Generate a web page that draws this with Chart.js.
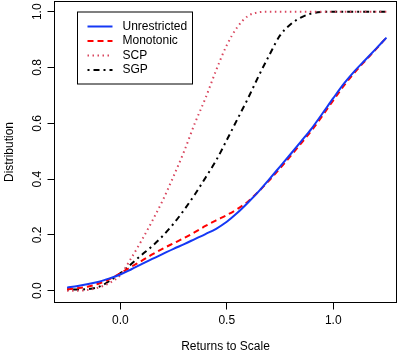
<!DOCTYPE html>
<html>
<head>
<meta charset="utf-8">
<script src="https://cdn.jsdelivr.net/npm/chart.js@4/dist/chart.umd.min.js"></script>
<style>
  html, body { margin: 0; padding: 0; background: #fff; }
  canvas { display: block; }
</style>
</head>
<body>
<canvas id="myChart" width="400" height="355"></canvas>
<script>
"use strict";

// returns to scale grid (x) and the four estimated distributions
const returnsToScale = [-0.25, -0.2, -0.15, -0.1, -0.05, 0.0, 0.05, 0.1, 0.15, 0.2, 0.25, 0.3, 0.35, 0.4, 0.45,
    0.5, 0.55, 0.6, 0.65, 0.7, 0.75, 0.8, 0.85, 0.9, 0.95, 1.0, 1.05, 1.1, 1.15, 1.2, 1.25];

const unrestricted = [0.011, 0.017, 0.024, 0.032, 0.044, 0.058, 0.076, 0.095, 0.114, 0.132, 0.150, 0.167, 0.185, 0.203, 0.222,
    0.247, 0.279, 0.316, 0.356, 0.400, 0.445, 0.490, 0.536, 0.583, 0.636, 0.690, 0.742, 0.787, 0.827, 0.867, 0.907];

const monotonic = [0.005, 0.009, 0.015, 0.026, 0.042, 0.062, 0.085, 0.107, 0.130, 0.151, 0.170, 0.189, 0.210, 0.232, 0.252,
    0.271, 0.293, 0.320, 0.356, 0.396, 0.439, 0.483, 0.529, 0.576, 0.628, 0.682, 0.735, 0.782, 0.824, 0.865, 0.908];

const scp = [0.0, 0.0, 0.003, 0.012, 0.028, 0.056, 0.115, 0.18, 0.25, 0.325, 0.41, 0.50, 0.60, 0.69, 0.79,
    0.88, 0.945, 0.985, 0.998, 1.0, 1.0, 1.0, 1.0, 1.0, 1.0, 1.0, 1.0, 1.0, 1.0, 1.0, 1.0];

const sgp = [0.004, 0.004, 0.006, 0.014, 0.035, 0.062, 0.095, 0.128, 0.16, 0.197, 0.24, 0.29, 0.345, 0.405, 0.467,
    0.54, 0.615, 0.69, 0.77, 0.845, 0.915, 0.955, 0.98, 0.994, 0.999, 1.0, 1.0, 1.0, 1.0, 1.0, 1.0];

const seriesNames = ["Unrestricted", "Monotonic", "SCP", "SGP"];
const xTicks = [0.0, 0.5, 1.0];
const yTicks = [0.0, 0.2, 0.4, 0.6, 0.8, 1.0];

const FONT = "'Liberation Sans', Arial, Helvetica, sans-serif";
Chart.defaults.color = "#000";
Chart.defaults.font.family = FONT;
Chart.defaults.font.size = 12;

function toPoints(ys){
    return returnsToScale.map((x, i) => ({x: x, y: ys[i]}));
}

// box around the plotting region, like R's box()
const boxPlugin = {
    id: "plotBox",
    afterDraw(chart){
        const a = chart.chartArea;
        const c = chart.ctx;
        c.save();
        c.strokeStyle = "#000";
        c.lineWidth = 1;
        c.strokeRect(a.left, a.top, a.right - a.left, a.bottom - a.top);
        c.restore();
    }
};

// legend drawn inside the plot, top left
const legendPlugin = {
    id: "insideLegend",
    afterDraw(chart){
        const c = chart.ctx;
        const a = chart.chartArea;
        const bx = a.left + 23, by = a.top + 10.5;
        const bw = 115, bh = 72;
        c.save();
        c.fillStyle = "#fff";
        c.fillRect(bx, by, bw, bh);
        c.strokeStyle = "#000";
        c.lineWidth = 1;
        c.strokeRect(bx, by, bw, bh);
        chart.data.datasets.forEach((ds, i) => {
            const y = by + 14.5 + i * 14.5;
            c.beginPath();
            c.strokeStyle = ds.borderColor;
            c.lineWidth = ds.borderWidth;
            c.setLineDash(ds.borderDash || []);
            c.moveTo(bx + 10, y);
            c.lineTo(bx + 35, y);
            c.stroke();
            c.setLineDash([]);
            c.fillStyle = "#000";
            c.font = "12px " + FONT;
            c.textBaseline = "middle";
            c.textAlign = "left";
            c.fillText(ds.label, bx + 45, y);
        });
        c.restore();
    }
};

function noPadding(scale){
    scale.paddingTop = 0;
    scale.paddingBottom = 0;
    scale.paddingLeft = 0;
    scale.paddingRight = 0;
}

const ctx = document.getElementById("myChart");

let chart = new Chart(ctx, {
    type: "line",
    data: {
        datasets: [
            {label: seriesNames[0], data: toPoints(unrestricted), borderColor: "#1538f5", borderWidth: 2},
            {label: seriesNames[1], data: toPoints(monotonic), borderColor: "#ff0000", borderWidth: 2, borderDash: [6, 4]},
            {label: seriesNames[2], data: toPoints(scp), borderColor: "#d9475f", borderWidth: 2, borderDash: [1.5, 3.5]},
            {label: seriesNames[3], data: toPoints(sgp), borderColor: "#000000", borderWidth: 2, borderDash: [2, 4, 6, 4]}
        ]
    },
    options: {
        responsive: false,
        animation: false,
        devicePixelRatio: 1,
        layout: {autoPadding: false, padding: {top: 1.5, right: 3.5, bottom: 0, left: 0}},
        elements: {
            point: {radius: 0},
            line: {cubicInterpolationMode: "monotone", fill: false}
        },
        plugins: {legend: {display: false}, tooltip: {enabled: false}},
        scales: {
            x: {
                type: "linear",
                min: -0.309,
                max: 1.297,
                afterFit(scale){ scale.height = 52.5; noPadding(scale); },
                afterBuildTicks(scale){ scale.ticks = xTicks.map(v => ({value: v})); },
                grid: {drawOnChartArea: false, tickLength: 7, color: "#000", tickColor: "#000"},
                border: {display: true, color: "#000"},
                ticks: {padding: 4, maxRotation: 0, callback: v => v.toFixed(1)},
                title: {display: true, text: "Returns to Scale", padding: {top: 0, bottom: 1}, font: {size: 12, lineHeight: 1.2}}
            },
            y: {
                type: "linear",
                min: -0.0423,
                max: 1.0366,
                afterFit(scale){ scale.width = 54.5; noPadding(scale); },
                afterBuildTicks(scale){ scale.ticks = yTicks.map(v => ({value: v})); },
                grid: {drawOnChartArea: false, tickLength: 7, color: "#000", tickColor: "#000"},
                border: {display: true, color: "#000"},
                ticks: {padding: 1, minRotation: 90, maxRotation: 90, crossAlign: "center", callback: v => v.toFixed(1)},
                title: {display: true, text: "Distribution", padding: {top: 2.5, bottom: 0}, font: {size: 12, lineHeight: 1.2}}
            }
        }
    },
    plugins: [boxPlugin, legendPlugin]
});
</script>
</body>
</html>
